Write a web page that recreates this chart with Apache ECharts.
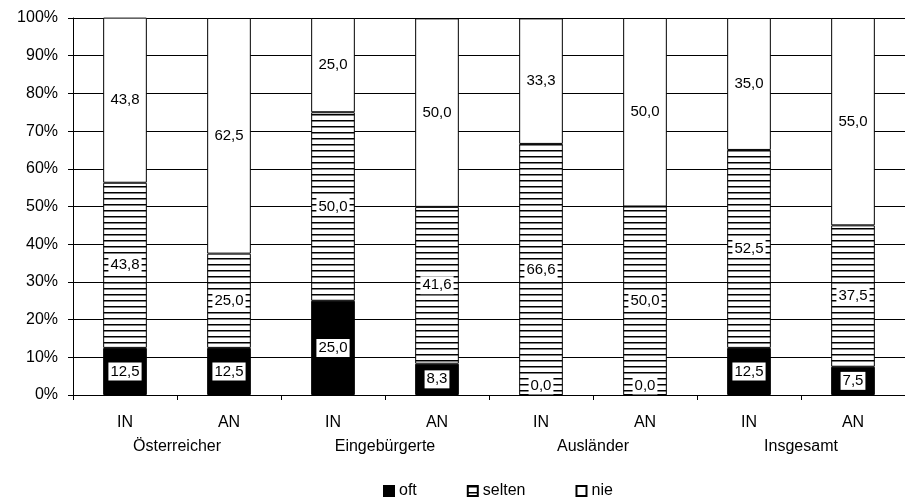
<!DOCTYPE html>
<html><head><meta charset="utf-8">
<script src="https://cdn.jsdelivr.net/npm/echarts@6/dist/echarts.min.js"></script>
<style>html,body{margin:0;padding:0;background:#fff}#c{width:905px;height:499px}</style>
</head><body><div id="c"></div>
<script>
var categories = ['IN','AN','IN','AN','IN','AN','IN','AN'];
var groups = ['Österreicher','Eingebürgerte','Ausländer','Insgesamt'];
var oft    = [12.5, 12.5, 25.0, 8.3, 0.0, 0.0, 12.5, 7.5];
var selten = [43.8, 25.0, 50.0, 41.6, 66.6, 50.0, 52.5, 37.5];
var nie    = [43.8, 62.5, 25.0, 50.0, 33.3, 50.0, 35.0, 55.0];
var seriesNames = ['oft','selten','nie'];

var FONT = '"Liberation Sans", Arial, sans-serif';
var pc = document.createElement('canvas');
pc.width = 8; pc.height = 6;
var g = pc.getContext('2d');
g.fillStyle = '#fff'; g.fillRect(0,0,8,6);
g.fillStyle = '#000'; g.fillRect(0,0,8,1.5);

function fmt(p){ return p.value.toFixed(1).replace('.', ','); }
var labelBase = {show:true, formatter:fmt, color:'#000', fontFamily:FONT, fontSize:15};

function zeroAware(arr){
  return arr.map(function(v){
    if (v === 0) return {value:v, label:{position:'top', distance:0}};
    return v;
  });
}

var chart = echarts.init(document.getElementById('c'), null, {renderer:'canvas'});
chart.setOption({
  animation:false,
  backgroundColor:'#fff',
  grid:{left:73, right:0, top:18, bottom:104},
  legend:{
    top:478, left:378, itemWidth:10, itemHeight:10, itemGap:50, icon:'rect',
    textStyle:{fontFamily:FONT, fontSize:16, color:'#000'},
    data:seriesNames
  },
  xAxis:[{
    type:'category', data:categories, position:'bottom',
    axisLine:{lineStyle:{color:'#000', width:1}},
    axisTick:{show:true, length:5, lineStyle:{color:'#000'}},
    axisLabel:{color:'#000', fontFamily:FONT, fontSize:16, margin:20}
  },{
    type:'category', data:groups, position:'bottom', offset:23,
    axisLine:{show:false}, axisTick:{show:false},
    axisLabel:{color:'#000', fontFamily:FONT, fontSize:16, margin:21}
  }],
  yAxis:{
    type:'value', min:0, max:100, interval:10,
    axisLine:{show:true, lineStyle:{color:'#000'}},
    axisTick:{show:true, length:5, lineStyle:{color:'#000'}},
    axisLabel:{formatter:'{value}%', color:'#000', fontFamily:FONT, fontSize:16, margin:15},
    splitLine:{lineStyle:{color:'#000', width:1}}
  },
  series:[{
    name:'oft', type:'bar', stack:'a', barWidth:'42%', data:zeroAware(oft),
    itemStyle:{color:'#000', borderColor:'#000', borderWidth:1},
    label:Object.assign({}, labelBase, {position:'inside', backgroundColor:'#fff', padding:[2,2,1,2]})
  },{
    name:'selten', type:'bar', stack:'a', data:selten,
    itemStyle:{color:{image:pc, repeat:'repeat'}, borderColor:'#000', borderWidth:1},
    label:Object.assign({}, labelBase, {position:'inside', backgroundColor:'#fff', padding:[2,2,1,2]})
  },{
    name:'nie', type:'bar', stack:'a', data:nie,
    itemStyle:{color:'#fff', borderColor:'#000', borderWidth:1},
    label:Object.assign({}, labelBase, {position:'inside'})
  }]
});
</script></body></html>
